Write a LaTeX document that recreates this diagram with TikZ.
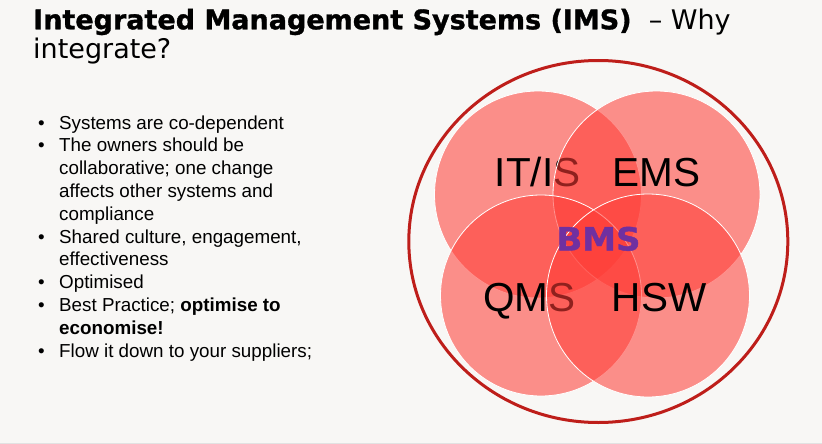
\documentclass[tikz,border=0pt]{standalone}
\usepackage{fontspec}
\usepackage{graphicx}
\setmainfont{Liberation Sans}
\newfontfamily\titlefont{DejaVu Sans}
\newfontfamily\heavyfont[FakeBold=1.2]{DejaVu Sans Bold}
\usepackage{tikz}
\usetikzlibrary{positioning}
\definecolor{imsBg}{HTML}{F8F7F5}
\definecolor{imsRule}{HTML}{E2E2E2}
\definecolor{imsRing}{HTML}{BE1E1A}
\definecolor{imsFill}{HTML}{FF3C36}
\definecolor{imsPurple}{HTML}{7030A0}

\begin{document}
\begin{tikzpicture}[x=1pt,y=-1pt]
\tikzset{venn/.style={circle, draw=white, line width=0.8pt, fill=imsFill, fill opacity=0.56, inner sep=0pt},
 vennlabel/.style={anchor=base, inner sep=0pt, font=\fontsize{40.5}{40.5}\selectfont},
 headline/.style={anchor=base west, inner sep=0pt, font=\titlefont\fontsize{27}{29}\selectfont},
 bullets/.style={anchor=base west, inner sep=0pt, align=left, font=\fontsize{18.8}{22.8}\selectfont},
 ring/.style={draw=imsRing, line width=3pt}}

\fill[imsBg] (0,0) rectangle (822,444);
\fill[imsRule] (0,442.5) rectangle (822,444);

% heading
\node[headline] (title) at (33,29.3) {{\heavyfont Integrated Management Systems (IMS)}\ \ – Why};
\node[headline] (title2) at (33,58.3) {integrate?};

% bullet list
\node[bullets] (points) at (38,129) {\begin{tabular}[t]{@{}l@{}l@{}}
\makebox[21pt][l]{\textbullet} & Systems are co-dependent\\
\makebox[21pt][l]{\textbullet} & The owners should be\\
 & collaborative; one change\\
 & affects other systems and\\
 & compliance\\
\makebox[21pt][l]{\textbullet} & Shared culture, engagement,\\
 & effectiveness\\
\makebox[21pt][l]{\textbullet} & Optimised\\
\makebox[21pt][l]{\textbullet} & Best Practice; \textbf{optimise to}\\
 & \textbf{economise!}\\
\makebox[21pt][l]{\textbullet} & Flow it down to your suppliers;
\end{tabular}};

% venn
\draw[ring] (598.3,241.5) ellipse [x radius=189.5pt, y radius=181pt];

\node[venn, minimum size=207pt] (itis) at (538,194.5) {};
\node[vennlabel] (itisl) at (537.5,186.7) {IT/IS};
\node[venn, minimum size=207pt] (ems) at (656.5,194.5) {};
\node[vennlabel] (emsl) at (656.5,186.7) {EMS};
\node[venn, minimum size=201pt] (qms) at (541,295.5) {};
\node[vennlabel] (qmsl) at (529.5,311.2) {QMS};
\node[venn, minimum size=203pt] (hsw) at (648,295.5) {};
\node[vennlabel] (hswl) at (659,311.2) {HSW};

\node[anchor=base, inner sep=0pt, text=imsPurple, text opacity=1, font=\heavyfont\fontsize{32}{32}\selectfont] (bms) at (598.5,250.5) {\scalebox{1.06}[1]{BMS}};
\end{tikzpicture}
\end{document}
